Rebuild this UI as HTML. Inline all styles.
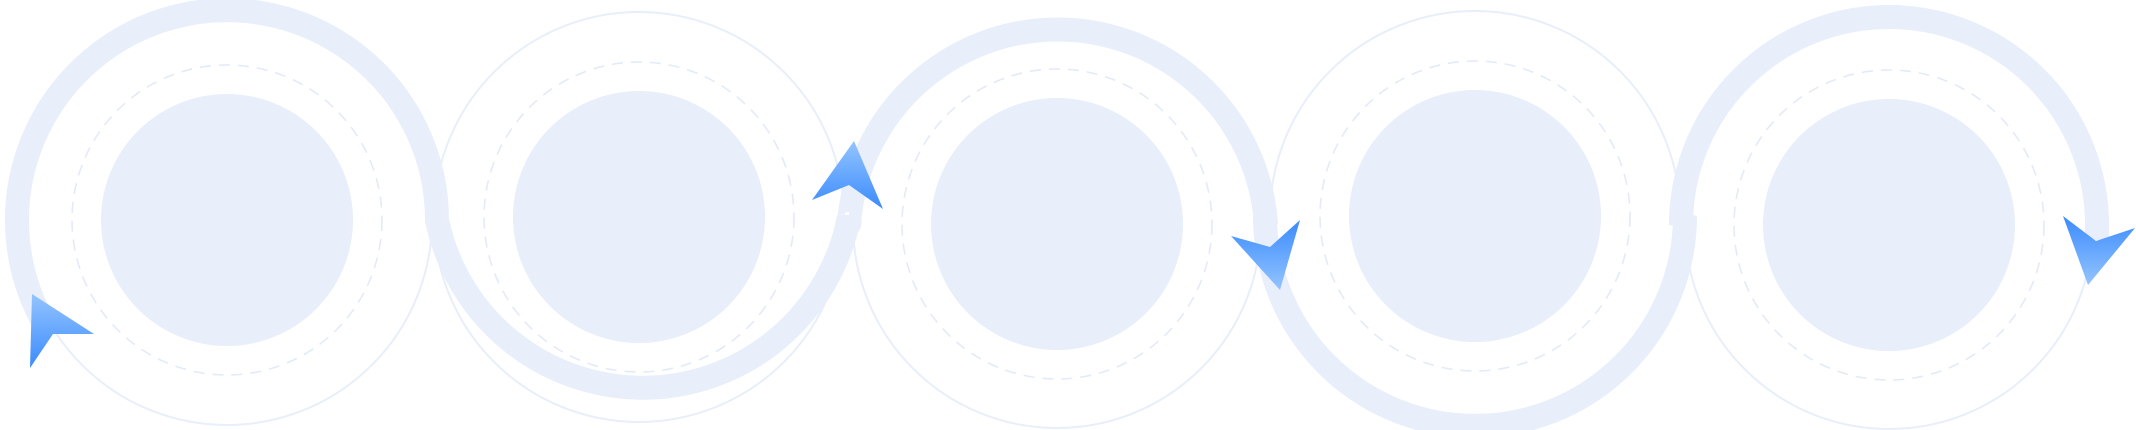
<!DOCTYPE html>
<html><head><meta charset="utf-8"><style>html,body{margin:0;padding:0;background:#fff}svg{display:block}</style></head>
<body>
<svg width="2136" height="430" viewBox="0 0 2136 430" xmlns="http://www.w3.org/2000/svg">
<defs>
<linearGradient id="gUp" x1="0" y1="0" x2="0" y2="1"><stop offset="0" stop-color="#94c4ff"/><stop offset="1" stop-color="#3a8bfd"/></linearGradient>
<linearGradient id="gDown" x1="0" y1="0" x2="0" y2="1"><stop offset="0" stop-color="#3a8bfd"/><stop offset="1" stop-color="#94c4ff"/></linearGradient>
</defs>
<g fill="none" stroke="#e8eefa">
<circle cx="227" cy="220" r="205" stroke-width="2"/>
<circle cx="639" cy="217" r="205" stroke-width="2"/>
<circle cx="1057" cy="224" r="204" stroke-width="2"/>
<circle cx="1475" cy="216" r="205" stroke-width="2"/>
<circle cx="1889" cy="225" r="204" stroke-width="2"/>
</g>
<g fill="none" stroke="#e3eaf8" stroke-width="1.6" stroke-dasharray="11 8">
<circle cx="227" cy="220" r="155"/>
<circle cx="639" cy="217" r="155"/>
<circle cx="1057" cy="224" r="155"/>
<circle cx="1475" cy="216" r="155"/>
<circle cx="1889" cy="225" r="155"/>
</g>
<g fill="#e8eefa">
<circle cx="227" cy="220" r="126"/>
<circle cx="639" cy="217" r="126"/>
<circle cx="1057" cy="224" r="126"/>
<circle cx="1475" cy="216" r="126"/>
<circle cx="1889" cy="225" r="126"/>
</g>
<path d="M45 325 A210 210 0 1 1 437 220 A210 210 0 0 0 849 217 Q850 224 849 224 A209 209 0 0 1 1266 224 Q1266 220 1265 216 A210 210 0 0 0 1685 216 Q1682 222 1681 225 A208 208 0 0 1 2097 225 L2097 240" fill="none" stroke="#e8eefa" stroke-width="24"/>
<polygon points="30,368 32,294 94,334 53,334" fill="url(#gUp)"/>
<polygon points="854,141 883,209 849,185 812,200" fill="url(#gUp)"/>
<polygon points="1231,236 1270,247 1300,220 1280,290" fill="url(#gDown)"/>
<polygon points="2063,216 2096,241 2135,228 2088,285" fill="url(#gDown)"/>
</svg>
</body></html>
